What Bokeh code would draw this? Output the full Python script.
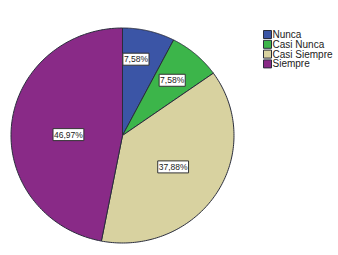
import numpy as np
from bokeh.plotting import figure
from bokeh.models import ColumnDataSource, Range1d
from bokeh.core.properties import value
from bokeh.embed import file_html
from bokeh.resources import INLINE

categories = ["Nunca", "Casi Nunca", "Casi Siempre", "Siempre"]
percents = [7.58, 7.58, 37.88, 46.97]
labels = ["7,58%", "7,58%", "37,88%", "46,97%"]
colors = ["#3b55a6", "#3cb54a", "#d8d2a0", "#892a87"]
label_frac = [0.72, 0.68, 0.54, 0.485]
label_turn = [4.0, 0.0, 0.0, 4.5]

W, H = 338, 255
cx, cy = 122, H - 135
rx, ry = 111.5, 107.5

p = figure(width=W, height=H, output_backend="svg", toolbar_location=None,
           x_range=Range1d(0, W), y_range=Range1d(0, H), min_border=0)
p.axis.visible = False
p.grid.visible = False
p.outline_line_color = None
p.background_fill_color = "white"

total = sum(percents)
fr = np.array(percents) / total
ends = np.cumsum(fr)
starts = ends - fr
lx, ly = [], []
for i, cat in enumerate(categories):
    a0 = np.pi / 2 - 2 * np.pi * starts[i]
    a1 = np.pi / 2 - 2 * np.pi * ends[i]
    t = np.linspace(a0, a1, 120)
    xs = [cx] + list(cx + rx * np.cos(t)) + [cx]
    ys = [cy] + list(cy + ry * np.sin(t)) + [cy]
    p.patch(xs, ys, fill_color=colors[i], line_color="#2a2d3c", line_width=1)
    am = (a0 + a1) / 2 + np.radians(label_turn[i])
    lx.append(cx + label_frac[i] * rx * np.cos(am))
    ly.append(cy + label_frac[i] * ry * np.sin(am))

src = ColumnDataSource(dict(x=lx, y=ly, t=labels))
p.text(x="x", y="y", text="t", source=src, text_align="center",
       text_baseline="middle", text_font=value("Liberation Sans"),
       text_font_size="8.5px", text_color="#222222",
       background_fill_color="white", border_line_color="#333333",
       border_line_width=1, padding=1)

# legend (drawn as glyphs for tight row spacing)
leg_top = H - 34
step = 9.8
gx = 267
n = len(categories)
leg_src = ColumnDataSource(dict(
    x=[gx] * n,
    y=[leg_top - k * step for k in range(n)],
    tx=[gx + 5] * n,
    c=colors,
    lab=categories,
))
p.rect(x="x", y="y", width=8, height=8, fill_color="c", line_color="#2a2d3c",
       line_width=1, source=leg_src)
p.text(x="tx", y="y", text="lab", source=leg_src, text_align="left",
       text_baseline="middle", text_font=value("Liberation Sans"),
       text_font_size="10px", text_color="#222222")

open("out.html", "w").write(file_html(p, INLINE))
